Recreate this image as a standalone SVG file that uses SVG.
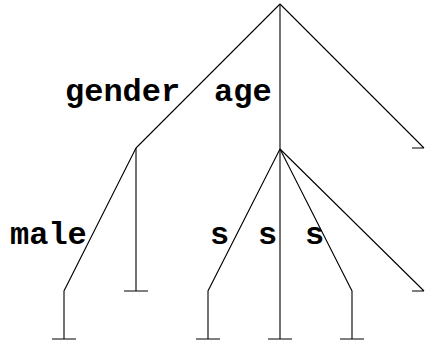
<svg xmlns="http://www.w3.org/2000/svg" width="426" height="346" viewBox="0 0 426 346">
<style>
.e{stroke:#000;stroke-width:1.1;fill:none}
.t{font-family:"Liberation Mono","Courier New",monospace;font-weight:bold;font-size:32px;fill:#000}
</style>
<rect width="426" height="346" fill="#fff"/>
<g id="connectors">
<path class="e" d="M280,4 L136,148"/>
<path class="e" d="M280,4 L280,149"/>
<path class="e" d="M280,4 L424,148 M412,148 L424,148"/>
<path class="e" d="M136,148 L64,291 L64,339 M52,339 L76,339"/>
<path class="e" d="M136,148 L136,291 M124,291 L148,291"/>
<path class="e" d="M280,149 L208,291 L208,339 M196,339 L220,339"/>
<path class="e" d="M280,149 L280,339 M268,339 L292,339"/>
<path class="e" d="M280,149 L352,291 L352,339 M340,339 L364,339"/>
<path class="e" d="M280,149 L424,291 M412,291 L424,291"/>
</g>
<g id="labels">
<text class="t" x="65" y="101">gender</text>
<text class="t" x="214" y="101">age</text>
<text class="t" x="10" y="244">male</text>
<text class="t" x="210" y="244">s</text>
<text class="t" x="258" y="244">s</text>
<text class="t" x="305" y="244">s</text>
</g>
</svg>
